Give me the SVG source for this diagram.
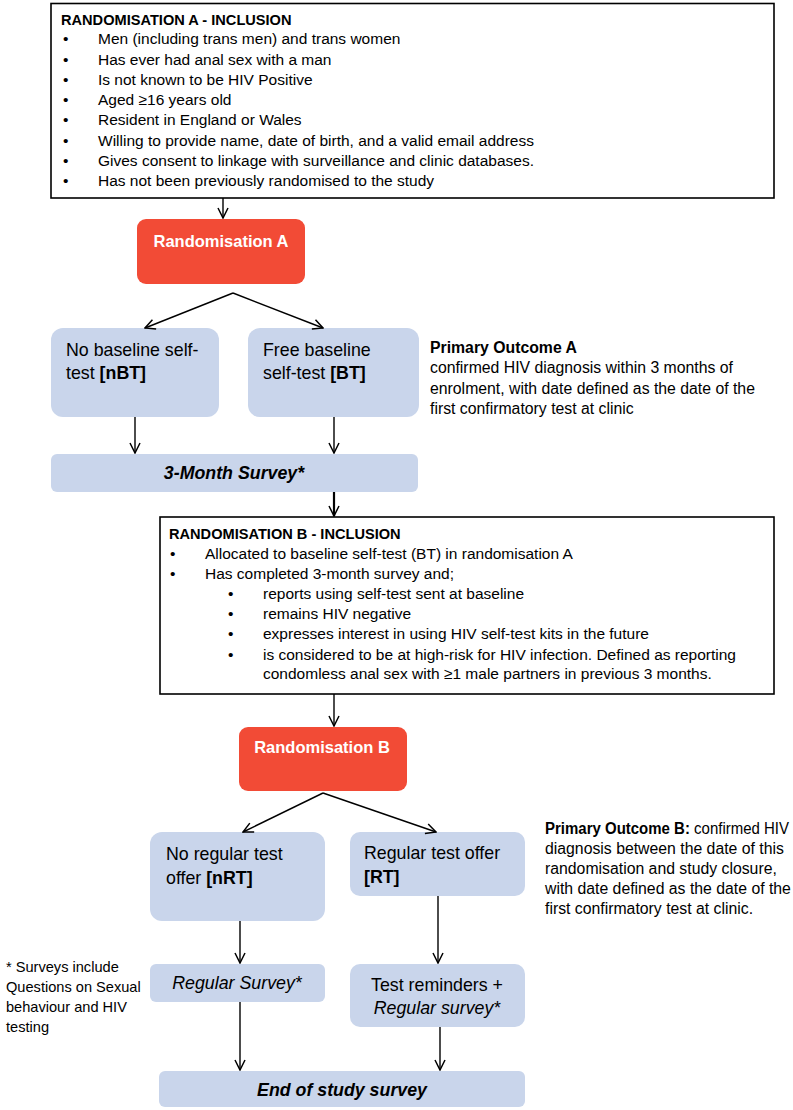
<svg xmlns="http://www.w3.org/2000/svg" width="793" height="1110" viewBox="0 0 793 1110">
<defs>
<style>
.t{font-family:"Liberation Sans",Arial,sans-serif;font-size:15.5px;fill:#000}
.o{font-size:15.8px}
.hd{font-size:14.6px;font-weight:bold}
.h{font-weight:bold}
.big{font-family:"Liberation Sans",Arial,sans-serif;font-size:17.8px;fill:#000}
.w{font-family:"Liberation Sans",Arial,sans-serif;font-size:16.5px;font-weight:bold;fill:#fff}
.crit{fill:#fff;stroke:#000;stroke-width:1.6}
.red{fill:#F24B36}
.blue{fill:#C9D5EB}
.con line{stroke:#000;stroke-width:1.4;fill:none}
</style>
<marker id="ah" viewBox="0 0 12 12" refX="11" refY="6" markerWidth="12" markerHeight="12" markerUnits="userSpaceOnUse" orient="auto">
<path d="M1,1 L11,6 L1,11" fill="none" stroke="#000" stroke-width="1.5"/>
</marker>
</defs>
<rect width="793" height="1110" fill="#fff"/>

<g id="inclusionA">
<rect class="crit" x="51" y="3.5" width="723" height="194.5"/>
<text class="t hd" x="61" y="24.5">RANDOMISATION A - INCLUSION</text>
<g class="t">
<text x="63" y="44">•</text><text x="98" y="44">Men (including trans men) and trans women</text>
<text x="63" y="64.5">•</text><text x="98" y="64.5">Has ever had anal sex with a man</text>
<text x="63" y="85">•</text><text x="98" y="85">Is not known to be HIV Positive</text>
<text x="63" y="104.5">•</text><text x="98" y="104.5">Aged ≥16 years old</text>
<text x="63" y="125">•</text><text x="98" y="125">Resident in England or Wales</text>
<text x="63" y="146">•</text><text x="98" y="146">Willing to provide name, date of birth, and a valid email address</text>
<text x="63" y="165.5">•</text><text x="98" y="165.5">Gives consent to linkage with surveillance and clinic databases.</text>
<text x="63" y="186">•</text><text x="98" y="186">Has not been previously randomised to the study</text>
</g>
</g>

<g id="randA">
<rect class="red" x="137" y="219" width="168" height="65" rx="9"/>
<text class="w" x="221" y="247" text-anchor="middle">Randomisation A</text>
</g>

<g id="nBT">
<rect class="blue" x="51" y="328" width="168" height="89" rx="12"/>
<text class="big" x="66" y="356">No baseline self-</text>
<text class="big" x="66" y="379">test <tspan class="h">[nBT]</tspan></text>
</g>

<g id="BT">
<rect class="blue" x="248" y="328" width="171" height="89" rx="12"/>
<text class="big" x="263" y="356">Free baseline</text>
<text class="big" x="263" y="379">self-test <tspan class="h">[BT]</tspan></text>
</g>

<g id="outcomeA" class="t o">
<text class="h" x="430" y="353">Primary Outcome A</text>
<text x="430" y="373">confirmed HIV diagnosis within 3 months of</text>
<text x="430" y="393.5">enrolment, with date defined as the date of the</text>
<text x="430" y="414">first confirmatory test at clinic</text>
</g>

<g id="survey3">
<rect class="blue" x="51" y="454" width="367" height="38" rx="6"/>
<text class="big h" x="234" y="479" text-anchor="middle" font-style="italic" font-size="16.5">3-Month Survey*</text>
</g>

<g id="inclusionB">
<rect class="crit" x="160" y="517" width="614" height="177" stroke-width="2"/>
<text class="t hd" x="169" y="538.5">RANDOMISATION B - INCLUSION</text>
<g class="t">
<text x="170" y="558.5">•</text><text x="205" y="558.5">Allocated to baseline self-test (BT) in randomisation A</text>
<text x="170" y="578.5">•</text><text x="205" y="578.5">Has completed 3-month survey and;</text>
<text x="228" y="599">•</text><text x="263" y="599">reports using self-test sent at baseline</text>
<text x="228" y="618.5">•</text><text x="263" y="618.5">remains HIV negative</text>
<text x="228" y="639">•</text><text x="263" y="639">expresses interest in using HIV self-test kits in the future</text>
<text x="228" y="660">•</text><text x="263" y="660">is considered to be at high-risk for HIV infection. Defined as reporting</text>
<text x="263" y="679">condomless anal sex with ≥1 male partners in previous 3 months.</text>
</g>
</g>

<g id="randB">
<rect class="red" x="239" y="727" width="168" height="64" rx="9"/>
<text class="w" x="322" y="753" text-anchor="middle">Randomisation B</text>
</g>

<g id="nRT">
<rect class="blue" x="150" y="832" width="175" height="89" rx="12"/>
<text class="big" x="166" y="860">No regular test</text>
<text class="big" x="166" y="884">offer <tspan class="h">[nRT]</tspan></text>
</g>

<g id="RT">
<rect class="blue" x="350" y="832" width="175" height="64" rx="10"/>
<text class="big" x="364" y="859">Regular test offer</text>
<text class="big h" x="364" y="883">[RT]</text>
</g>

<g id="outcomeB" class="t o">
<text x="545" y="834" textLength="244" lengthAdjust="spacingAndGlyphs"><tspan class="h">Primary Outcome B:</tspan> confirmed HIV</text>
<text x="545" y="854">diagnosis between the date of this</text>
<text x="545" y="874">randomisation and study closure,</text>
<text x="545" y="894">with date defined as the date of the</text>
<text x="545" y="914">first confirmatory test at clinic.</text>
</g>

<g id="footnote" class="t" font-size="14.6">
<text x="6" y="972" style="font-size:14.6px">* Surveys include</text>
<text x="6" y="992" style="font-size:14.6px">Questions on Sexual</text>
<text x="6" y="1012" style="font-size:14.6px">behaviour  and HIV</text>
<text x="6" y="1032" style="font-size:14.6px">testing</text>
</g>

<g id="regSurvey">
<rect class="blue" x="150" y="964" width="175" height="38" rx="6"/>
<text class="big" x="237" y="989" text-anchor="middle" font-style="italic" font-size="16">Regular Survey*</text>
</g>

<g id="reminders">
<rect class="blue" x="350" y="964" width="175" height="63" rx="10"/>
<text class="big" x="437" y="991" text-anchor="middle" font-size="16.6">Test reminders +</text>
<text class="big" x="437" y="1014" text-anchor="middle" font-style="italic" font-size="16.4">Regular survey*</text>
</g>

<g id="endSurvey">
<rect class="blue" x="159" y="1071" width="366" height="36" rx="6"/>
<text class="big h" x="342" y="1095.5" text-anchor="middle" font-style="italic" font-size="15.6">End of study survey</text>
</g>

<g id="connectors" class="con">
<line x1="223" y1="198" x2="223" y2="218" marker-end="url(#ah)"/>
<line x1="233" y1="293" x2="145" y2="328" marker-end="url(#ah)"/>
<line x1="233" y1="293" x2="323" y2="328" marker-end="url(#ah)"/>
<line x1="135" y1="417" x2="135" y2="453" marker-end="url(#ah)"/>
<line x1="334" y1="417" x2="334" y2="453" marker-end="url(#ah)"/>
<line x1="334" y1="492" x2="334" y2="516" marker-end="url(#ah)" style="stroke-width:2.2"/>
<line x1="334" y1="694" x2="334" y2="726" marker-end="url(#ah)"/>
<line x1="323" y1="793" x2="243" y2="832" marker-end="url(#ah)"/>
<line x1="323" y1="793" x2="436" y2="832" marker-end="url(#ah)"/>
<line x1="240" y1="921" x2="240" y2="963" marker-end="url(#ah)"/>
<line x1="438" y1="896" x2="438" y2="963" marker-end="url(#ah)"/>
<line x1="240" y1="1002" x2="240" y2="1070" marker-end="url(#ah)"/>
<line x1="440" y1="1027" x2="440" y2="1070" marker-end="url(#ah)"/>
</g>
</svg>
